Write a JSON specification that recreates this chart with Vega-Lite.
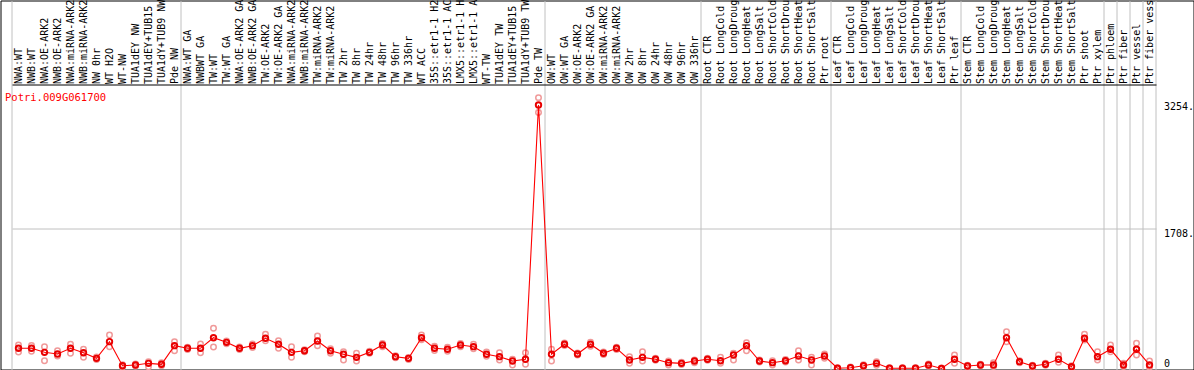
{
  "$schema": "https://vega.github.io/schema/vega-lite/v6.json",
  "width": 1193,
  "height": 369,
  "autosize": "none",
  "padding": {"left": 0.5, "top": 0.5, "right": 0.5, "bottom": 0.5},
  "background": "#ffffff",
  "title": {"text": "Potri.009G061700", "orient": "bottom", "anchor": "start", "frame": "group", "offset": -277, "dx": 4.5, "baseline": "middle", "color": "#ff0000", "font": "DejaVu Sans Mono", "fontSize": 10.5, "fontWeight": "normal"},
  "data": {"values": [
    {"s": "NWA:WT", "m": 246, "r1": 286, "r2": 201},
    {"s": "NWB:WT", "m": 246, "r1": 280, "r2": 210},
    {"s": "NWA:OE-ARK2", "m": 197, "r1": 266, "r2": 95},
    {"s": "NWB:OE-ARK2", "m": 177, "r1": 217, "r2": 152},
    {"s": "NWA:miRNA-ARK2", "m": 246, "r1": 295, "r2": 185},
    {"s": "NWB:miRNA-ARK2", "m": 192, "r1": 234, "r2": 136},
    {"s": "NW 0hr", "m": 124, "r1": 140, "r2": 110},
    {"s": "WT H2O", "m": 327, "r1": 408, "r2": 266},
    {"s": "WT-NW", "m": 34, "r1": 45, "r2": 20},
    {"s": "TUA1dEY NW", "m": 43, "r1": 55, "r2": 30},
    {"s": "TUA1dEY+TUB15 NW", "m": 63, "r1": 83, "r2": 22},
    {"s": "TUA1dY+TUB9 NW", "m": 51, "r1": 70, "r2": 35},
    {"s": "Pde NW", "m": 278, "r1": 327, "r2": 217},
    {"s": "NWA:WT GA", "m": 246, "r1": 260, "r2": 230},
    {"s": "NWBWT GA", "m": 246, "r1": 298, "r2": 192},
    {"s": "TW:WT", "m": 375, "r1": 490, "r2": 262},
    {"s": "TW:WT GA", "m": 319, "r1": 335, "r2": 300},
    {"s": "NWA:OE-ARK2 GA", "m": 246, "r1": 262, "r2": 230},
    {"s": "NWB:OE-ARK2 GA", "m": 278, "r1": 300, "r2": 255},
    {"s": "TW:OE-ARK2", "m": 368, "r1": 417, "r2": 339},
    {"s": "TW:OE-ARK2 GA", "m": 295, "r1": 339, "r2": 246},
    {"s": "NWA:miRNA-ARK2 GA", "m": 197, "r1": 266, "r2": 136},
    {"s": "NWB:miRNA-ARK2 GA", "m": 217, "r1": 230, "r2": 205},
    {"s": "TW:miRNA-ARK2", "m": 335, "r1": 396, "r2": 278},
    {"s": "TW:miRNA-ARK2 GA", "m": 217, "r1": 240, "r2": 185},
    {"s": "TW 2hr", "m": 173, "r1": 205, "r2": 104},
    {"s": "TW 8hr", "m": 136, "r1": 185, "r2": 91},
    {"s": "TW 24hr", "m": 197, "r1": 210, "r2": 185},
    {"s": "TW 48hr", "m": 286, "r1": 305, "r2": 265},
    {"s": "TW 96hr", "m": 144, "r1": 155, "r2": 130},
    {"s": "TW 336hr", "m": 124, "r1": 135, "r2": 110},
    {"s": "WT ACC", "m": 375, "r1": 408, "r2": 350},
    {"s": "35S::etr1-1 H2O", "m": 246, "r1": 270, "r2": 220},
    {"s": "35S::etr1-1 ACC", "m": 234, "r1": 260, "r2": 210},
    {"s": "LMX5::etr1-1 H2O", "m": 286, "r1": 305, "r2": 266},
    {"s": "LMX5::etr1-1 ACC", "m": 266, "r1": 295, "r2": 240},
    {"s": "WT-TW", "m": 173, "r1": 200, "r2": 150},
    {"s": "TUA1dEY TW", "m": 144, "r1": 192, "r2": 104},
    {"s": "TUA1dEY+TUB15 TW", "m": 91, "r1": 112, "r2": 43},
    {"s": "TUA1dY+TUB9 TW", "m": 112, "r1": 192, "r2": 51},
    {"s": "Pde TW", "m": 3210, "r1": 3300, "r2": 3120},
    {"s": "OW:WT", "m": 173, "r1": 234, "r2": 91},
    {"s": "OW:WT GA", "m": 295, "r1": 310, "r2": 280},
    {"s": "OW:OE-ARK2", "m": 177, "r1": 190, "r2": 165},
    {"s": "OW:OE-ARK2 GA", "m": 295, "r1": 320, "r2": 270},
    {"s": "OW:miRNA-ARK2", "m": 185, "r1": 200, "r2": 170},
    {"s": "OW:miRNA-ARK2 GA", "m": 246, "r1": 260, "r2": 230},
    {"s": "OW 2hr", "m": 104, "r1": 144, "r2": 63},
    {"s": "OW 8hr", "m": 136, "r1": 205, "r2": 91},
    {"s": "OW 24hr", "m": 112, "r1": 125, "r2": 100},
    {"s": "OW 48hr", "m": 71, "r1": 91, "r2": 43},
    {"s": "OW 96hr", "m": 63, "r1": 75, "r2": 50},
    {"s": "OW 336hr", "m": 91, "r1": 104, "r2": 70},
    {"s": "Root CTR", "m": 112, "r1": 125, "r2": 100},
    {"s": "Root LongCold", "m": 95, "r1": 136, "r2": 63},
    {"s": "Root LongDrought", "m": 164, "r1": 185, "r2": 104},
    {"s": "Root LongHeat", "m": 278, "r1": 314, "r2": 217},
    {"s": "Root LongSalt", "m": 91, "r1": 104, "r2": 80},
    {"s": "Root ShortCold", "m": 71, "r1": 95, "r2": 43},
    {"s": "Root ShortDrought", "m": 95, "r1": 110, "r2": 80},
    {"s": "Root ShortHeat", "m": 152, "r1": 217, "r2": 104},
    {"s": "Root ShortSalt", "m": 104, "r1": 136, "r2": 43},
    {"s": "Ptr root", "m": 152, "r1": 177, "r2": 124},
    {"s": "Leaf CTR", "m": 3, "r1": 8, "r2": 0},
    {"s": "Leaf LongCold", "m": 10, "r1": 18, "r2": 3},
    {"s": "Leaf LongDrought", "m": 34, "r1": 45, "r2": 25},
    {"s": "Leaf LongHeat", "m": 63, "r1": 83, "r2": 40},
    {"s": "Leaf LongSalt", "m": 3, "r1": 8, "r2": 0},
    {"s": "Leaf ShortCold", "m": 3, "r1": 8, "r2": 0},
    {"s": "Leaf ShortDrought", "m": 3, "r1": 8, "r2": 0},
    {"s": "Leaf ShortHeat", "m": 43, "r1": 55, "r2": 30},
    {"s": "Leaf ShortSalt", "m": 0, "r1": 5, "r2": 0},
    {"s": "Ptr leaf", "m": 112, "r1": 164, "r2": 63},
    {"s": "Stem CTR", "m": 30, "r1": 40, "r2": 20},
    {"s": "Stem LongCold", "m": 43, "r1": 52, "r2": 35},
    {"s": "Stem LongDrought", "m": 43, "r1": 70, "r2": 25},
    {"s": "Stem LongHeat", "m": 375, "r1": 448, "r2": 327},
    {"s": "Stem LongSalt", "m": 83, "r1": 95, "r2": 70},
    {"s": "Stem ShortCold", "m": 30, "r1": 40, "r2": 20},
    {"s": "Stem ShortDrought", "m": 51, "r1": 63, "r2": 40},
    {"s": "Stem ShortHeat", "m": 112, "r1": 164, "r2": 75},
    {"s": "Stem ShortSalt", "m": 22, "r1": 35, "r2": 10},
    {"s": "Ptr shoot", "m": 368, "r1": 417, "r2": 347},
    {"s": "Ptr xylem", "m": 144, "r1": 205, "r2": 104},
    {"s": "Ptr phloem", "m": 234, "r1": 286, "r2": 205},
    {"s": "Ptr fiber", "m": 43, "r1": 65, "r2": 25},
    {"s": "Ptr vessel", "m": 234, "r1": 307, "r2": 164},
    {"s": "Ptr fiber vessel", "m": 43, "r1": 91, "r2": 15}
  ]},
  "resolve": {"axis": {"x": "independent", "y": "independent"}},
  "layer": [
    {
      "transform": [{"fold": ["r1", "r2"], "as": ["rep", "rv"]}],
      "mark": {"type": "point", "filled": false, "color": "#f09a9a", "strokeWidth": 1.5, "size": 30, "opacity": 1},
      "encoding": {
        "x": {"field": "s", "type": "nominal", "sort": null,
              "scale": {"type": "band", "range": [11.5, 1155.5], "paddingInner": 0, "paddingOuter": 0},
              "axis": {"orient": "bottom", "values": ["Ptr fiber vessel"], "bandPosition": 1, "grid": true, "gridColor": "#c0c0c0", "labels": false, "ticks": false, "domain": false, "title": null}},
        "y": {"field": "rv", "type": "quantitative", "scale": {"domain": [-12.2, 4483.4], "nice": false, "zero": false}, "axis": null}
      }
    },
    {
      "mark": {"type": "line", "color": "#ff0000", "strokeWidth": 1.1},
      "encoding": {
        "x": {"field": "s", "type": "nominal", "sort": null,
              "axis": {"orient": "top", "offset": -85, "labelAngle": -90, "labelAlign": "left", "labelBaseline": "middle", "labelPadding": 2, "labelOverlap": false, "labelLimit": 300, "labelBound": false, "labelFont": "DejaVu Sans Mono", "labelFontSize": 10, "labelColor": "#000000", "ticks": false, "domain": false, "grid": false, "title": null}},
        "y": {"field": "m", "type": "quantitative",
              "axis": {"orient": "right", "offset": -30, "values": [0, 1708, 3254], "labelExpr": "datum.value == 0 ? '0' : datum.value + '.'", "labelAlign": "left", "labelBaseline": {"condition": {"test": "datum.value == 0", "value": "bottom"}, "value": "top"}, "labelPadding": 0, "labelFont": "DejaVu Sans Mono", "labelFontSize": 10, "labelColor": "#000000", "labelFlush": false, "labelOverlap": false, "ticks": false, "tickSize": 0, "domain": false, "grid": false, "title": null}}
      }
    },
    {
      "mark": {"type": "point", "filled": false, "color": "#e80000", "strokeWidth": 1.9, "size": 30, "opacity": 1},
      "encoding": {
        "x": {"field": "s", "type": "nominal", "sort": null,
              "axis": {"orient": "bottom", "values": ["NWA:WT", "NWA:WT GA", "OW:WT", "Root CTR", "Leaf CTR", "Stem CTR", "Ptr phloem", "Ptr fiber", "Ptr vessel", "Ptr fiber vessel"], "bandPosition": 0, "grid": true, "gridColor": "#c0c0c0", "labels": false, "ticks": false, "domain": false, "title": null}},
        "y": {"field": "m", "type": "quantitative",
              "axis": {"orient": "left", "values": [1708, 3454], "grid": true, "gridColor": {"condition": {"test": "datum.value > 3000", "value": "#000000"}, "value": "#c0c0c0"}, "labels": false, "ticks": false, "domain": false, "title": null}}
      }
    }
  ],
  "config": {
    "view": {"stroke": "#000000", "strokeWidth": 1},
    "axis": {"gridWidth": 1}
  }
}
